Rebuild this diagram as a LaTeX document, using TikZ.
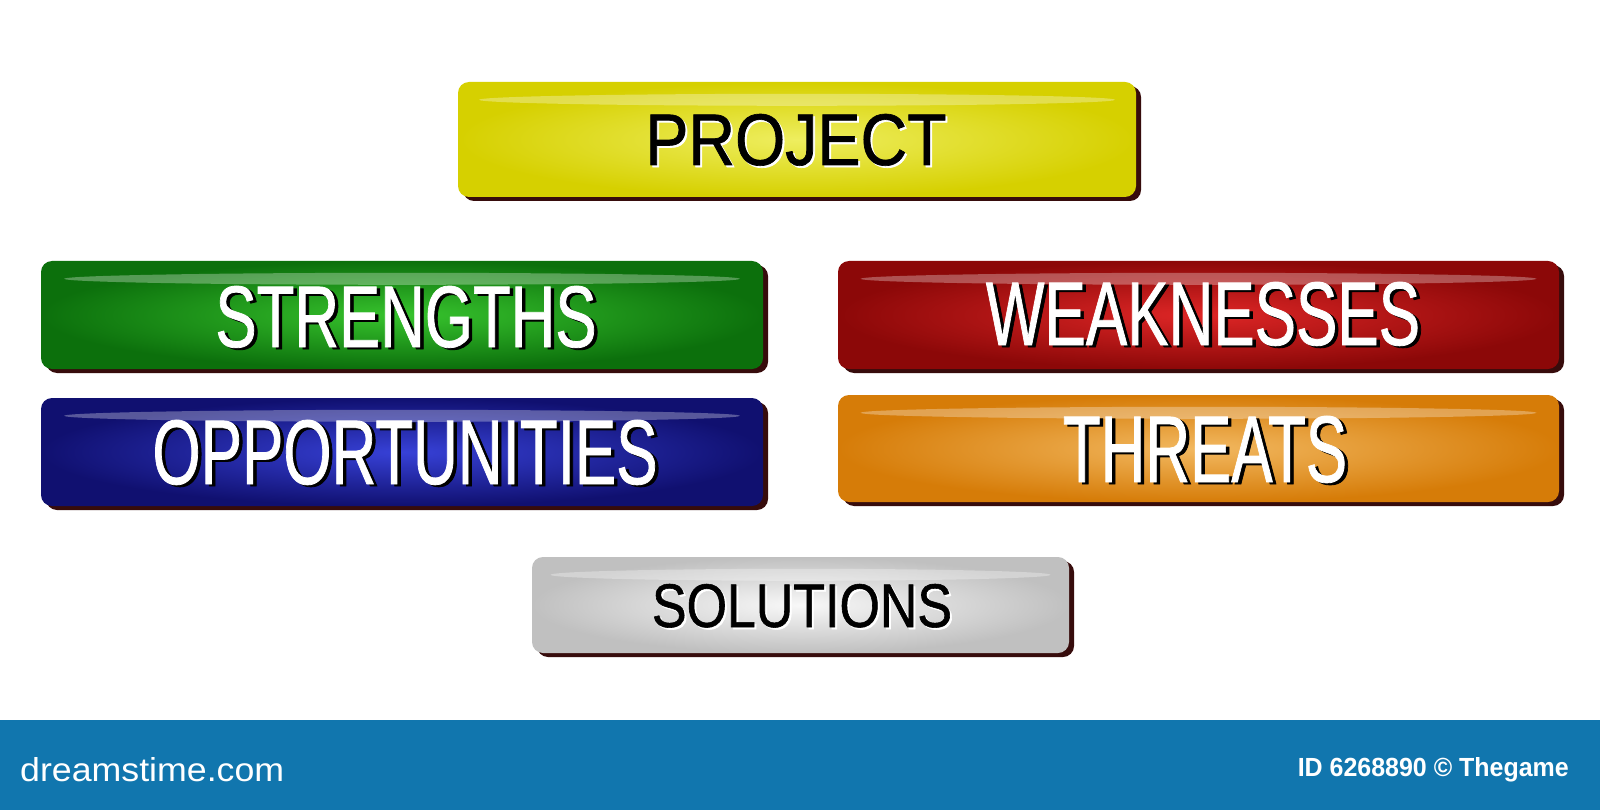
\documentclass[tikz,border=0pt]{standalone}
\usepackage{fontspec}
\setmainfont{Liberation Sans}
\newfontfamily\narrowfont[FakeStretch=0.8,FakeBold=0.9]{Liberation Sans}
\newfontfamily\logofont[FakeStretch=0.8]{Liberation Sans}
\usetikzlibrary{shadows,calc}
\definecolor{shadowc}{RGB}{55,12,12}
\definecolor{yelE}{RGB}{214,208,0}\definecolor{yelC}{RGB}{238,238,95}
\definecolor{grnE}{RGB}{12,112,12}\definecolor{grnC}{RGB}{55,195,45}
\definecolor{bluE}{RGB}{16,16,112}\definecolor{bluC}{RGB}{55,65,215}
\definecolor{redE}{RGB}{140,8,8}\definecolor{redC}{RGB}{222,38,38}
\definecolor{orgE}{RGB}{214,124,8}\definecolor{orgC}{RGB}{242,184,96}
\definecolor{gryE}{RGB}{192,192,192}\definecolor{gryC}{RGB}{248,248,248}
\definecolor{footc}{RGB}{17,118,174}
\newcommand{\fitbox}[3]{\resizebox{#1pt}{#2pt}{#3}}
% width, height, shadow colour, text colour, dx, dy, text
\newcommand{\shtext}[7]{%
  \makebox[0pt][l]{\hspace*{#5pt}\raisebox{-#6pt}{\color{#3}\fitbox{#1}{#2}{#7}}}%
  {\color{#4}\fitbox{#1}{#2}{#7}}}
\begin{document}
\begin{tikzpicture}[x=1pt,y=-1pt,
  btn/.style={rectangle, rounded corners=11pt, inner sep=0pt,
    drop shadow={shadow xshift=5pt, shadow yshift=-4pt, fill=shadowc, opacity=1}},
  lbl/.style={anchor=base, inner sep=0pt, font=\narrowfont},
  gloss/.style={fill=white, opacity=0.3}]
\useasboundingbox (0,0) rectangle (1600,810);
\fill[white] (0,0) rectangle (1600,810);

% buttons
\node[btn, minimum width=678pt, minimum height=115pt, inner color=yelC, outer color=yelE] (proj) at (797,139.5) {};
\node[btn, minimum width=722pt, minimum height=108pt, inner color=grnC, outer color=grnE] (str) at (402,315) {};
\node[btn, minimum width=722pt, minimum height=108pt, inner color=bluC, outer color=bluE] (opp) at (402,452) {};
\node[btn, minimum width=721pt, minimum height=108pt, inner color=redC, outer color=redE] (weak) at (1198.5,315) {};
\node[btn, minimum width=721pt, minimum height=107pt, inner color=orgC, outer color=orgE] (thr) at (1198.5,448.5) {};
\node[btn, minimum width=537pt, minimum height=96pt, inner color=gryC, outer color=gryE] (sol) at (800.5,605) {};

% gloss highlights
\foreach \n/\w in {proj/318, str/338, opp/338, weak/338, thr/338, sol/250}{
  \fill[gloss] ($(\n.north)+(0,18)$) ellipse [x radius=\w, y radius=6];
}

% labels (text with offset shadow in one node)
\node[lbl] (projt) at (796,165) {\shtext{301}{51}{white}{black}{2}{2}{PROJECT}};
\node[lbl] (strt) at (406,347) {\shtext{381}{61}{black}{white}{3.5}{2}{STRENGTHS}};
\node[lbl] (oppt) at (405,484) {\shtext{505}{64}{black}{white}{3.5}{2}{OPPORTUNITIES}};
\node[lbl] (weakt) at (1203,345) {\shtext{434}{63}{black}{white}{3.5}{2}{WEAKNESSES}};
\node[lbl] (thrt) at (1205,482) {\shtext{284}{66}{black}{white}{3.5}{2}{THREATS}};
\node[lbl] (solt) at (802,627) {\shtext{300}{43}{white}{black}{2}{2}{SOLUTIONS}};

% footer
\fill[footc] (0,720) rectangle (1600,810);
\node[anchor=base west, inner sep=0pt, text=white] (logo) at (20,781) {\fitbox{264}{24}{\logofont dreamstime.com}};
\node[anchor=base east, inner sep=0pt, text=white] (idtxt) at (1569,776) {\fitbox{271}{19}{\logofont\bfseries ID 6268890 © Thegame}};
\end{tikzpicture}
\end{document}
